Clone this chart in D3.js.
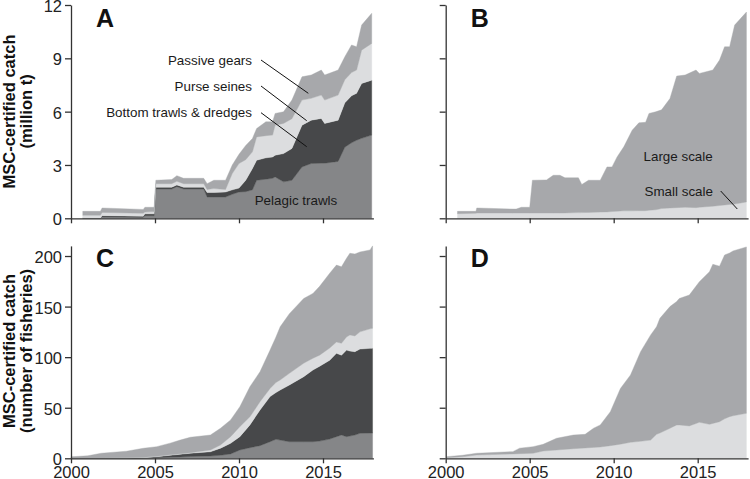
<!DOCTYPE html>
<html>
<head>
<meta charset="utf-8">
<script src="https://cdn.jsdelivr.net/npm/d3@7"></script>
<style>
  body { margin: 0; background: #fff; }
  svg text { font-family: Arial, "Liberation Sans", sans-serif; }
</style>
</head>
<body>
<div id="chart"></div>
<script>
// --- data ---
// A: certified catch by gear (million t), layer thickness per breakpoint
const yearsA =    [2000.7, 2001.75, 2001.85, 2004.3, 2004.4, 2004.95, 2005.05, 2006.0, 2006.3, 2006.7, 2007.9, 2008.1, 2008.5, 2009.2, 2009.6, 2010.0, 2010.4, 2010.8, 2011.05, 2011.6, 2012.0, 2012.15, 2012.65, 2013.15, 2013.75, 2014.3, 2014.9, 2015.1, 2015.9, 2016.3, 2016.7, 2017.0, 2017.3, 2017.9];
const pelagicA =  [0, 0, 0.08, 0.05, 0.15, 0.15, 1.65, 1.65, 1.78, 1.65, 1.65, 1.20, 1.20, 1.20, 1.35, 1.48, 1.50, 1.60, 2.14, 2.20, 2.25, 2.33, 2.05, 2.14, 2.89, 3.08, 3.10, 3.10, 3.20, 4.00, 4.25, 4.39, 4.50, 4.68];
const bottomA =   [0, 0, 0.07, 0.07, 0.10, 0.10, 0.10, 0.10, 0.10, 0.10, 0.10, 0.25, 0.25, 0.28, 0.25, 0.22, 0.64, 1.20, 1.13, 1.20, 1.20, 1.22, 1.59, 1.79, 2.35, 2.44, 2.52, 2.24, 2.32, 2.50, 2.65, 2.64, 3.09, 3.09];
const purseA =    [0.17, 0.17, 0.18, 0.16, 0.10, 0.13, 0.20, 0.20, 0.20, 0.20, 0.20, 0.17, 0.22, 0.14, 0.92, 1.38, 1.16, 0.94, 1.31, 1.25, 1.23, 1.69, 1.70, 1.67, 1.41, 1.23, 1.31, 1.31, 1.41, 1.30, 1.30, 1.31, 1.87, 2.07];
const passiveA =  [0.22, 0.22, 0.25, 0.22, 0.27, 0.24, 0.19, 0.23, 0.32, 0.30, 0.30, 0.33, 0.47, 0.52, 0.48, 0.52, 0.80, 0.75, 0.47, 0.78, 0.75, 0.66, 0.65, 1.05, 1.31, 1.31, 1.41, 1.41, 1.41, 1.29, 1.55, 1.31, 1.41, 1.69];

// B: certified catch by fleet scale (million t)
const yearsB =    [2000.7, 2001.8, 2001.85, 2004.0, 2004.2, 2004.5, 2005.0, 2005.16, 2006.0, 2006.4, 2006.8, 2007.1, 2007.9, 2008.1, 2008.5, 2009.2, 2009.6, 2009.9, 2010.2, 2010.6, 2011.1, 2011.5, 2011.9, 2012.1, 2012.5, 2012.85, 2013.35, 2013.75, 2014.25, 2014.9, 2015.1, 2015.9, 2016.3, 2016.6, 2016.9, 2017.2, 2017.9];
const smallB =    [0.26, 0.28, 0.30, 0.30, 0.30, 0.30, 0.30, 0.30, 0.30, 0.30, 0.30, 0.30, 0.32, 0.32, 0.33, 0.35, 0.36, 0.38, 0.40, 0.42, 0.42, 0.43, 0.43, 0.45, 0.48, 0.55, 0.58, 0.60, 0.62, 0.60, 0.62, 0.68, 0.72, 0.75, 0.78, 0.80, 0.92];
const largeB =    [0.13, 0.11, 0.28, 0.22, 0.22, 0.32, 0.32, 1.84, 1.86, 2.12, 2.12, 1.98, 1.96, 1.58, 1.81, 1.79, 2.53, 2.51, 3.05, 3.60, 4.54, 4.94, 4.97, 5.45, 5.51, 5.55, 6.16, 7.40, 7.44, 7.74, 7.53, 7.66, 8.18, 8.90, 8.87, 10.07, 10.68];

// C: number of certified fisheries by gear
const yearsC =    [2000.0, 2001.0, 2001.8, 2003.3, 2004.3, 2005.1, 2005.9, 2006.5, 2007.1, 2008.3, 2008.9, 2009.5, 2010.05, 2010.65, 2011.25, 2011.85, 2012.2, 2012.45, 2013.0, 2013.85, 2014.4, 2014.8, 2015.4, 2015.8, 2016.1, 2016.4, 2016.6, 2016.9, 2017.2, 2017.8, 2017.95];
const pelagicC =  [0, 0, 0, 0, 0.3, 0.5, 1.0, 1.3, 1.8, 2.3, 3.0, 4.3, 8.2, 10.5, 12.5, 16.4, 18.8, 18.0, 16.4, 16.4, 16.4, 17.0, 19.0, 21.4, 23.0, 21.4, 22.0, 23.0, 24.7, 25.0, 25.0];
const bottomC =   [0, 0, 0, 0, 0.3, 1.1, 2.0, 2.7, 3.2, 4.2, 7.0, 10.5, 13.2, 22.5, 35.3, 44.6, 46.2, 49.5, 56.1, 64.3, 70.9, 74.0, 78.0, 82.4, 79.0, 85.6, 84.0, 82.4, 83.3, 83.7, 83.7];
const purseC =    [0, 0, 0.3, 0.5, 0.4, 0.4, 0.5, 0.6, 0.6, 1.7, 3.2, 6.6, 9.9, 8.0, 8.2, 8.0, 10.0, 9.9, 11.5, 13.3, 11.6, 11.0, 12.0, 11.2, 11.7, 13.0, 16.0, 15.6, 17.0, 19.3, 19.8];
const passiveC =  [1.5, 2.5, 4.7, 6.5, 8.9, 9.5, 11.5, 13.4, 15.2, 14.8, 16.5, 16.5, 19.7, 29.8, 29.6, 38.0, 45.0, 52.6, 59.0, 64.0, 64.1, 68.0, 74.0, 76.0, 75.7, 77.7, 80.7, 81.0, 79.0, 78.0, 81.5];

// D: number of certified fisheries by fleet scale
const yearsD =    [2000.05, 2001.0, 2001.85, 2004.0, 2004.4, 2005.2, 2005.8, 2006.6, 2007.6, 2008.3, 2008.8, 2009.2, 2009.8, 2010.4, 2011.0, 2011.6, 2012.2, 2012.55, 2012.75, 2013.35, 2013.75, 2013.9, 2014.5, 2015.1, 2015.7, 2015.9, 2016.3, 2016.6, 2016.9, 2017.1, 2017.9];
const smallD =    [0.6, 1.5, 3.3, 4.3, 4.6, 5.0, 7.2, 8.2, 9.5, 10.2, 10.8, 11.2, 12.5, 14.0, 15.8, 16.8, 18.0, 23.7, 25.0, 29.7, 33.0, 33.0, 32.0, 35.6, 33.6, 34.5, 36.2, 39.0, 41.2, 42.0, 44.5];
const largeD =    [1.0, 1.5, 1.7, 2.3, 5.4, 6.5, 6.6, 11.6, 13.5, 13.5, 18.9, 21.8, 33.5, 55.0, 66.6, 88.6, 104.0, 106.3, 113.4, 120.3, 122.0, 125.0, 129.4, 139.0, 150.9, 157.3, 153.8, 162.0, 161.8, 163.0, 164.5];

const yearTicks = [2000, 2005, 2010, 2015];
const catchTicks = [0, 3, 6, 9, 12];
const countTicks = [0, 50, 100, 150, 200];

const gearColors = ["#858688", "#47484a", "#dcdddf", "#a7a8ab"];
const scaleColors = ["#dcdddf", "#a7a8ab"];

const W = 750, H = 479;
const svg = d3.select("#chart").append("svg")
  .attr("width", W)
  .attr("height", H);

function drawPanel(p) {
  const x = d3.scaleLinear().domain([2000, 2018]).range(p.xRange);
  const y = d3.scaleLinear().domain(p.yDomain).range(p.yRange);

  const keys = p.series.map((s, i) => "s" + i);
  const rows = p.years.map((yr, i) => {
    const r = { year: yr };
    p.series.forEach((s, k) => { r[keys[k]] = s[i]; });
    return r;
  });
  const stacked = d3.stack().keys(keys)(rows);

  const area = d3.area()
    .x(d => x(d.data.year))
    .y0(d => y(d[0]))
    .y1(d => y(d[1]));

  const g = svg.append("g");
  g.selectAll("path.layer")
    .data(stacked)
    .join("path")
    .attr("class", "layer")
    .attr("d", area)
    .attr("fill", (d, i) => p.colors[i])
    .attr("stroke", (d, i) => p.colors[i])
    .attr("stroke-width", 0.4);

  // axes drawn on top of the areas
  const yAxis = d3.axisLeft(y).tickValues(p.yTicks).tickSize(6).tickSizeOuter(0).tickPadding(3);
  if (!p.yLabels) yAxis.tickFormat("");
  const xAxis = d3.axisBottom(x).tickValues(yearTicks).tickSize(5).tickSizeOuter(0).tickPadding(3)
    .tickFormat(p.xLabels ? d3.format("d") : "");

  const yG = g.append("g")
    .attr("transform", `translate(${p.xRange[0]},0)`)
    .call(yAxis);
  const xG = g.append("g")
    .attr("transform", `translate(0,${p.yRange[0]})`)
    .call(xAxis);

  [yG, xG].forEach(a => {
    a.select(".domain").attr("stroke", "#333").attr("stroke-width", 1.3);
    a.selectAll(".tick line").attr("stroke", "#333").attr("stroke-width", 1.3);
    a.selectAll(".tick text").attr("fill", "#222").style("font-size", "16.5px");
  });
  yG.selectAll(".tick text").attr("dy", "0.4em");

  g.append("text")
    .attr("x", p.xRange[0] + 25)
    .attr("y", p.yRange[1] + 21.5)
    .style("font-size", "25px")
    .style("font-weight", "bold")
    .attr("fill", "#111")
    .text(p.letter);

  return { x, y, g };
}

const topRow = { yDomain: [0, 12], yRange: [218.3, 5], yTicks: catchTicks };
const botRow = { yDomain: [0, 210], yRange: [458.3, 245.9], yTicks: countTicks };
const leftX = [71, 373.4], rightX = [445.7, 748.1];

const pA = drawPanel({ ...topRow, xRange: leftX, years: yearsA,
  series: [pelagicA, bottomA, purseA, passiveA], colors: gearColors,
  yLabels: true, xLabels: false, letter: "A" });
const pB = drawPanel({ ...topRow, xRange: rightX, years: yearsB,
  series: [smallB, largeB], colors: scaleColors,
  yLabels: false, xLabels: false, letter: "B" });
drawPanel({ ...botRow, xRange: leftX, years: yearsC,
  series: [pelagicC, bottomC, purseC, passiveC], colors: gearColors,
  yLabels: true, xLabels: true, letter: "C" });
drawPanel({ ...botRow, xRange: rightX, years: yearsD,
  series: [smallD, largeD], colors: scaleColors,
  yLabels: false, xLabels: true, letter: "D" });

// y axis titles
function yTitle(lines, cy) {
  const t = svg.append("text")
    .attr("transform", `translate(0,${cy}) rotate(-90)`)
    .attr("text-anchor", "middle")
    .style("font-size", "16.5px")
    .style("font-weight", "bold")
    .attr("fill", "#111");
  lines.forEach((l, i) => t.append("tspan").attr("x", 0).attr("y", 15 + i * 16.5).text(l));
}
yTitle(["MSC-certified catch", "(million t)"], 111.5);
yTitle(["MSC-certified catch", "(number of fisheries)"], 351);

// annotations on A and B
function note(g, txt, x, y, anchor, line) {
  g.append("text")
    .attr("x", x).attr("y", y)
    .attr("text-anchor", anchor)
    .style("font-size", "13.4px")
    .attr("fill", "#1a1a1a")
    .text(txt);
  if (line) {
    g.append("line")
      .attr("x1", line[0]).attr("y1", line[1])
      .attr("x2", line[2]).attr("y2", line[3])
      .attr("stroke", "#111").attr("stroke-width", 1);
  }
}
note(pA.g, "Passive gears", 252, 64.5, "end", [261, 60, 308.3, 93.3]);
note(pA.g, "Purse seines", 252, 90.5, "end", [261, 86, 306.7, 120.7]);
note(pA.g, "Bottom trawls & dredges", 252, 116.5, "end", [261, 112.7, 306.7, 146.7]);
note(pA.g, "Pelagic trawls", 296, 205, "middle");
note(pB.g, "Large scale", 643.5, 160.5, "start");
note(pB.g, "Small scale", 644.5, 196, "start", [720.7, 191, 737.3, 209]);
</script>
</body>
</html>
